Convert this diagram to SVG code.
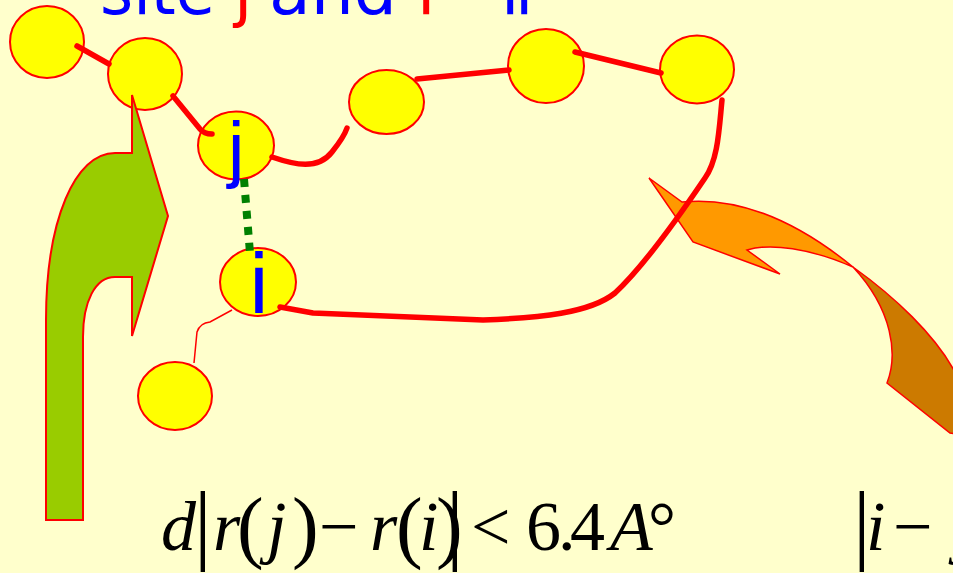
<svg xmlns="http://www.w3.org/2000/svg" width="953" height="573" viewBox="0 0 953 573">
<style>
.node{fill:#FFFF00;stroke:#FF0000;stroke-width:2}
.chain{fill:none;stroke:#FF0000;stroke-width:5.5;stroke-linecap:round;stroke-linejoin:round}
.thin{fill:none;stroke:#FF0000;stroke-width:1.5}
.title{font-family:"DejaVu Sans","Liberation Sans",sans-serif;font-size:66px}
.lbl{font-family:"Liberation Sans",Arial,sans-serif;fill:#0000FF}
.math{font-family:"Liberation Serif","Times New Roman",serif;font-size:70px;fill:#000}
.it{font-style:italic}
</style>
<rect x="0" y="0" width="953" height="573" fill="#FFFFCC"/>

<g id="title" class="title">
  <text x="100" y="14" fill="#0000FF" textLength="115" lengthAdjust="spacingAndGlyphs">site</text>
  <text x="234" y="14" fill="#FF0000">j</text>
  <text x="269" y="14" fill="#0000FF" textLength="128" lengthAdjust="spacingAndGlyphs">and</text>
  <text x="417" y="14" fill="#FF0000">i</text>
  <text x="501" y="14" fill="#0000FF">i</text>
  <text x="515" y="14" fill="#0000FF">i</text>
</g>

<g id="node1"><ellipse class="node" cx="47" cy="42" rx="37" ry="36"/></g>
<g id="node2"><ellipse class="node" cx="145" cy="74" rx="37" ry="36"/></g>
<g id="node-j"><ellipse class="node" cx="236" cy="145.5" rx="38" ry="34"/></g>
<g id="node-i"><ellipse class="node" cx="258" cy="282" rx="38" ry="34"/></g>
<g id="node5"><ellipse class="node" cx="175" cy="396" rx="37" ry="34"/></g>
<g id="node6"><ellipse class="node" cx="386.5" cy="102" rx="37.5" ry="32"/></g>
<g id="node7"><ellipse class="node" cx="546" cy="66" rx="38" ry="37"/></g>
<g id="node8"><ellipse class="node" cx="697" cy="69.5" rx="37" ry="34"/></g>

<g id="orange-arrow" stroke="#FF0000" stroke-width="1.5" stroke-linejoin="miter">
  <path d="M853,267 C895,297 935,335 955,372 L955,434 L950,433 L887,383 C898,355 893,310 853,267 Z" fill="#CC7A00"/>
  <path d="M853,267 C810,232 750,195 682,202 L649,178 L693,242 L780,274 L747,250 C770,243 810,248 853,267 Z" fill="#FF9900"/>
</g>

<g id="connectors">
  <path class="chain" d="M77,46 L109,64"/>
  <path class="chain" d="M173,96 L200,129 Q204,134 212,134"/>
  <path class="chain" d="M272,157 C295,165 318,170 332,152 C340,142 345,134 347,128"/>
  <path class="chain" d="M417,79 L509,70"/>
  <path class="chain" d="M575,52 L661,73"/>
  <path class="chain" d="M722,100 C719,130 718,160 705,178 C680,215 645,265 615,293 C590,313 540,318 483,320 L313,313 L280,307"/>
  <path class="thin" d="M232,310 L210,322 Q200,323 197,332 L194,363"/>
  <path d="M244,179 L250,253" fill="none" stroke="#008000" stroke-width="8" stroke-dasharray="8 8"/>
</g>

<g id="green-arrow">
  <path d="M132,95 L168,216 L132,336 L132,277 L115,277 C95,277 83,302 83,337 L83,520 L46,520 L46,320 C46,220 75,153 115,153 L132,153 Z" fill="#99CC00" stroke="#FF0000" stroke-width="2"/>
</g>

<g id="labels">
  <text class="lbl" x="228" y="174" font-size="74">j</text>
  <text class="lbl" x="249.5" y="313" font-size="85">i</text>
</g>

<g id="formula" class="math">
  <text x="161" y="550" class="it">d</text>
  <text x="194" y="553" font-size="88">|</text>
  <text x="213" y="550" class="it">r</text>
  <text x="237" y="553" font-size="80">(</text>
  <text x="267" y="550" class="it">j</text>
  <text x="292" y="553" font-size="80">)</text>
  <text x="319" y="550">−</text>
  <text x="370" y="550" class="it">r</text>
  <text x="396" y="553" font-size="80">(</text>
  <text x="419" y="550" class="it">i</text>
  <text x="436" y="553" font-size="80">)</text>
  <text x="446" y="553" font-size="88">|</text>
  <text x="471" y="550">&lt;</text>
  <text x="526" y="550">6</text>
  <text x="558" y="550">.</text>
  <text x="570" y="550">4</text>
  <text x="610" y="550" class="it">A</text>
  <text x="648" y="550">°</text>
  <text x="853" y="553" font-size="88">|</text>
  <text x="866" y="550" class="it">i</text>
  <text x="893" y="550">−</text>
  <text x="956" y="550" class="it">j</text>
</g>
</svg>
